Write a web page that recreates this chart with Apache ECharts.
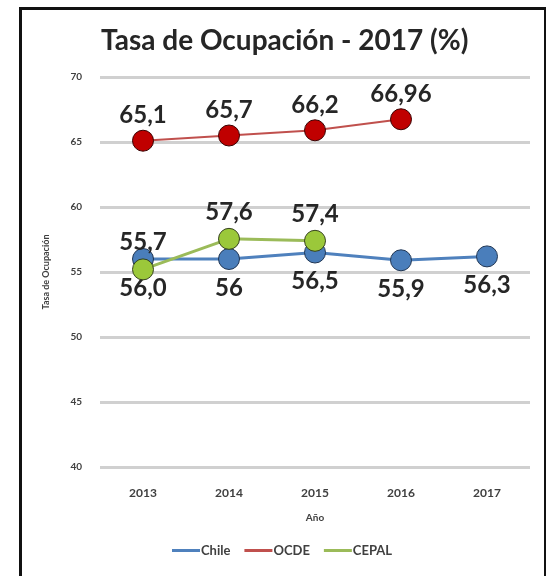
<!DOCTYPE html>
<html>
<head>
<meta charset="utf-8">
<script src="https://cdn.jsdelivr.net/npm/echarts@6/dist/echarts.min.js"></script>
<style>
  html, body { margin: 0; padding: 0; background: #fff; }
  #frame {
    position: absolute; left: 19px; top: 7px; width: 528px; height: 620px;
    border: 3px solid #111; box-sizing: border-box;
  }
  #chart { position: absolute; left: 0; top: 0; width: 546px; height: 576px; }
</style>
</head>
<body>
<div id="frame"></div>
<div id="chart"></div>
<script>
const years = ['2013', '2014', '2015', '2016', '2017']
const chile = [56.0, 56.0, 56.5, 55.9, 56.2]
const chileLabels = ['56,0', '56', '56,5', '55,9', '56,3']
const ocde = [65.1, 65.5, 65.9, 66.75, null]
const ocdeLabels = ['65,1', '65,7', '66,2', '66,96', '']
const cepal = [55.2, 57.55, 57.4, null, null]
const cepalLabels = ['55,7', '57,6', '57,4', '', '']
const yTicks = [40, 45, 50, 55, 60, 65, 70]

const font = 'Lato, "Liberation Sans", sans-serif'

const chart = echarts.init(document.getElementById('chart'))

const labelStyle = (texts, pos, dist) => ({
  show: true,
  position: pos,
  distance: dist,
  fontFamily: font,
  fontSize: 24,
  fontWeight: 'bold',
  color: '#262626',
  formatter: p => texts[p.dataIndex]
})

const option = {
  animation: false,
  title: {
    text: 'Tasa de Ocupación - 2017 (%)',
    left: 96,
    top: 22,
    textStyle: { fontFamily: font, fontSize: 28, fontWeight: 'bold', color: '#262626' }
  },
  grid: { left: 100, right: 16, top: 77, bottom: 109 },
  legend: {
    bottom: 14,
    left: 167,
    icon: 'rect',
    itemWidth: 28,
    itemHeight: 3,
    itemGap: 14,
    textStyle: { fontFamily: font, fontSize: 13, fontWeight: 'bold', color: '#404040', padding: [0, 0, 0, -4] },
    data: [
      { name: 'Chile', itemStyle: { color: '#4f81bd', borderWidth: 0 } },
      { name: 'OCDE', itemStyle: { color: '#c0504d', borderWidth: 0 } },
      { name: 'CEPAL', itemStyle: { color: '#9bbb59', borderWidth: 0 } }
    ]
  },
  xAxis: {
    type: 'category',
    data: years,
    name: 'Año',
    nameLocation: 'middle',
    nameGap: 46,
    nameTextStyle: { fontFamily: font, fontSize: 10, fontWeight: 'bold', color: '#404040' },
    axisLine: { show: false },
    axisTick: { show: false },
    axisLabel: { margin: 20, fontFamily: font, fontSize: 12, fontWeight: 'bold', color: '#404040' }
  },
  yAxis: {
    type: 'value',
    min: yTicks[0],
    max: yTicks[yTicks.length - 1],
    interval: 5,
    name: 'Tasa de Ocupación',
    nameLocation: 'middle',
    nameGap: 49,
    nameRotate: 90,
    nameTextStyle: { fontFamily: font, fontSize: 9, fontWeight: 'bold', color: '#404040' },
    axisLine: { show: false },
    axisTick: { show: false },
    axisLabel: { margin: 18, fontFamily: font, fontSize: 10, fontWeight: 'bold', color: '#404040' },
    splitLine: { lineStyle: { color: '#d0d0d0', width: 3 } }
  },
  series: [
    {
      name: 'Chile',
      type: 'line',
      data: chile,
      symbol: 'circle',
      symbolSize: 21,
      z: 2,
      lineStyle: { color: '#4f81bd', width: 3 },
      itemStyle: { color: '#4a7ebb', borderColor: '#1f3553', borderWidth: 1 },
      label: labelStyle(chileLabels, 'bottom', 6)
    },
    {
      name: 'OCDE',
      type: 'line',
      data: ocde,
      symbol: 'circle',
      symbolSize: 21,
      lineStyle: { color: '#c0504d', width: 2 },
      itemStyle: { color: '#c00000', borderColor: '#3a0000', borderWidth: 1 },
      label: labelStyle(ocdeLabels, 'top', 2)
    },
    {
      name: 'CEPAL',
      type: 'line',
      data: cepal,
      symbol: 'circle',
      symbolSize: 21,
      z: 3,
      lineStyle: { color: '#9bbb59', width: 3 },
      itemStyle: { color: '#9bc83a', borderColor: '#34401d', borderWidth: 1 },
      label: labelStyle(cepalLabels, 'top', 4)
    }
  ]
}

chart.setOption(option)
</script>
</body>
</html>
